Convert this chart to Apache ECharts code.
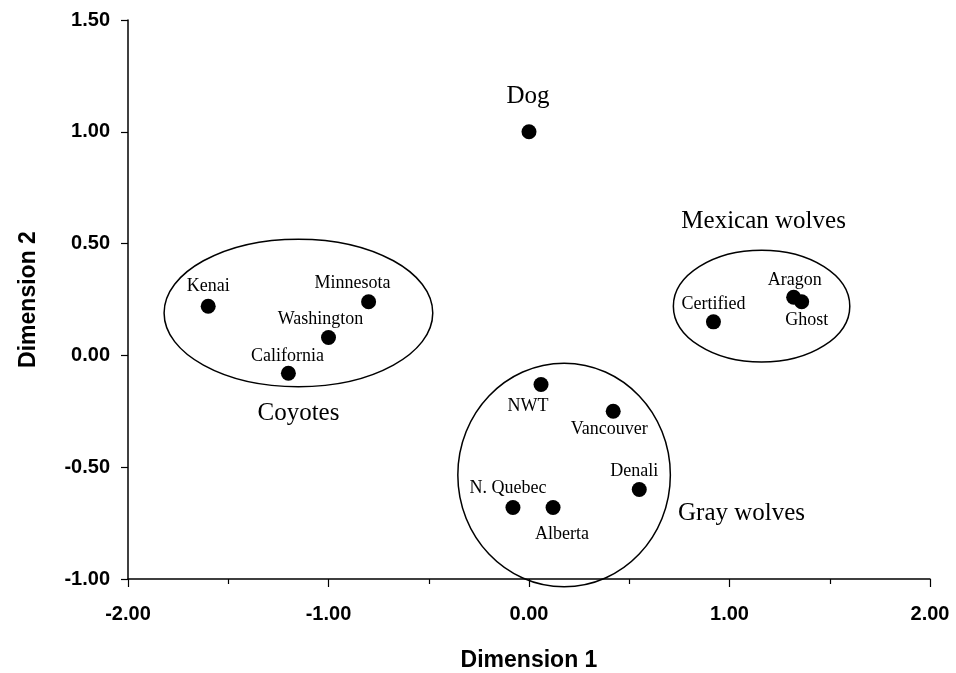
<!DOCTYPE html>
<html>
<head>
    <meta charset="utf-8"/>
    <title>Dimension plot</title>
    <script src="https://cdn.jsdelivr.net/npm/echarts@6/dist/echarts.min.js"></script>
    <style>
        html, body { margin: 0; padding: 0; background: #fff; }
        #chart { width: 956px; height: 673px; }
    </style>
</head>
<body>
<div id="chart"></div>
<script>
    // sample points: name, dimension 1, dimension 2
    var names = ['Dog', 'Kenai', 'Minnesota', 'Washington', 'California', 'NWT', 'Vancouver',
        'Denali', 'N. Quebec', 'Alberta', 'Certified', 'Aragon', 'Ghost'];
    var dim1 = [0.00, -1.60, -0.80, -1.00, -1.20, 0.06, 0.42, 0.55, -0.08, 0.12, 0.92, 1.32, 1.36];
    var dim2 = [1.00, 0.22, 0.24, 0.08, -0.08, -0.13, -0.25, -0.60, -0.68, -0.68, 0.15, 0.26, 0.24];

    // group ellipses: centre x, centre y, radius x, radius y (data units)
    var groupNames = ['Coyotes', 'Gray wolves', 'Mexican wolves'];
    var groupCx = [-1.15, 0.175, 1.16];
    var groupCy = [0.19, -0.535, 0.22];
    var groupRx = [0.67, 0.53, 0.44];
    var groupRy = [0.33, 0.50, 0.25];
    // where the group captions sit (data units)
    var captionX = [-1.15, 1.06, 1.17];
    var captionY = [-0.26, -0.705, 0.60];

    var xTicks = [-2, -1, 0, 1, 2];
    var yTicks = [-1, -0.5, 0, 0.5, 1, 1.5];

    // label offsets in pixels from each dot
    var labelOffset = {
        'Dog': [-1, -35], 'Kenai': [0, -20], 'Minnesota': [-16, -18], 'Washington': [-8, -18],
        'California': [-1, -17], 'NWT': [-13, 22], 'Vancouver': [-4, 18], 'Denali': [-5, -18],
        'N. Quebec': [-5, -19], 'Alberta': [9, 27], 'Certified': [0, -18], 'Aragon': [1, -17],
        'Ghost': [5, 19]
    };

    var serif = '"Liberation Serif", "Times New Roman", serif';
    var sans = '"Liberation Sans", Arial, sans-serif';

    var points = names.map(function (n, i) {
        return {
            name: n,
            value: [dim1[i], dim2[i]],
            label: {
                offset: labelOffset[n],
                fontSize: n === 'Dog' ? 25 : 18
            }
        };
    });

    var ellipses = groupNames.map(function (n, i) {
        return [groupCx[i], groupCy[i], groupRx[i], groupRy[i]];
    });

    var captions = groupNames.map(function (n, i) {
        return { name: n, value: [captionX[i], captionY[i]] };
    });

    var chart = echarts.init(document.getElementById('chart'));
    var option = {
        animation: false,
        grid: { left: 128, right: 26, top: 20, bottom: 94, containLabel: false, outerBoundsMode: 'none' },
        xAxis: {
            type: 'value',
            min: -2, max: 2, interval: 1,
            name: 'Dimension 1',
            nameLocation: 'middle',
            nameGap: 70,
            nameTextStyle: { fontFamily: sans, fontWeight: 'bold', fontSize: 23, color: '#000' },
            axisLine: { onZero: false, lineStyle: { color: '#000', width: 1.5 } },
            axisTick: { show: true, inside: false, length: 8, lineStyle: { color: '#000', width: 1.2 } },
            minorTick: { show: true, splitNumber: 2, length: 5, lineStyle: { color: '#000', width: 1.2 } },
            splitLine: { show: false },
            axisLabel: {
                margin: 25,
                fontFamily: sans, fontWeight: 'bold', fontSize: 20, color: '#000',
                formatter: function (v) { return v.toFixed(2); }
            }
        },
        yAxis: {
            type: 'value',
            min: -1, max: 1.5, interval: 0.5,
            name: 'Dimension 2',
            nameLocation: 'middle',
            nameGap: 88,
            nameTextStyle: { fontFamily: sans, fontWeight: 'bold', fontSize: 23, color: '#000' },
            axisLine: { onZero: false, lineStyle: { color: '#000', width: 1.5 } },
            axisTick: { show: true, inside: false, length: 7, lineStyle: { color: '#000', width: 1.2 } },
            splitLine: { show: false },
            axisLabel: {
                margin: 18,
                fontFamily: sans, fontWeight: 'bold', fontSize: 20, color: '#000',
                formatter: function (v) { return v.toFixed(2); }
            }
        },
        series: [
            {
                type: 'custom',
                name: 'groups',
                silent: true,
                data: ellipses,
                renderItem: function (params, api) {
                    var c = api.coord([api.value(0), api.value(1)]);
                    var s = api.size([api.value(2), api.value(3)]);
                    return {
                        type: 'ellipse',
                        shape: { cx: c[0], cy: c[1], rx: s[0], ry: s[1] },
                        style: { fill: null, stroke: '#000', lineWidth: 1.5 }
                    };
                }
            },
            {
                type: 'scatter',
                name: 'samples',
                symbol: 'circle',
                symbolSize: 15,
                itemStyle: { color: '#000', opacity: 1 },
                label: {
                    show: true,
                    position: 'inside',
                    align: 'center',
                    verticalAlign: 'middle',
                    formatter: '{b}',
                    fontFamily: serif,
                    color: '#000',
                    opacity: 1
                },
                data: points
            },
            {
                type: 'scatter',
                name: 'captions',
                symbolSize: 0,
                silent: true,
                itemStyle: { opacity: 1 },
                label: {
                    show: true,
                    position: 'inside',
                    formatter: '{b}',
                    fontFamily: serif,
                    fontSize: 25,
                    color: '#000',
                    opacity: 1
                },
                data: captions
            }
        ]
    };
    chart.setOption(option);
</script>
</body>
</html>
